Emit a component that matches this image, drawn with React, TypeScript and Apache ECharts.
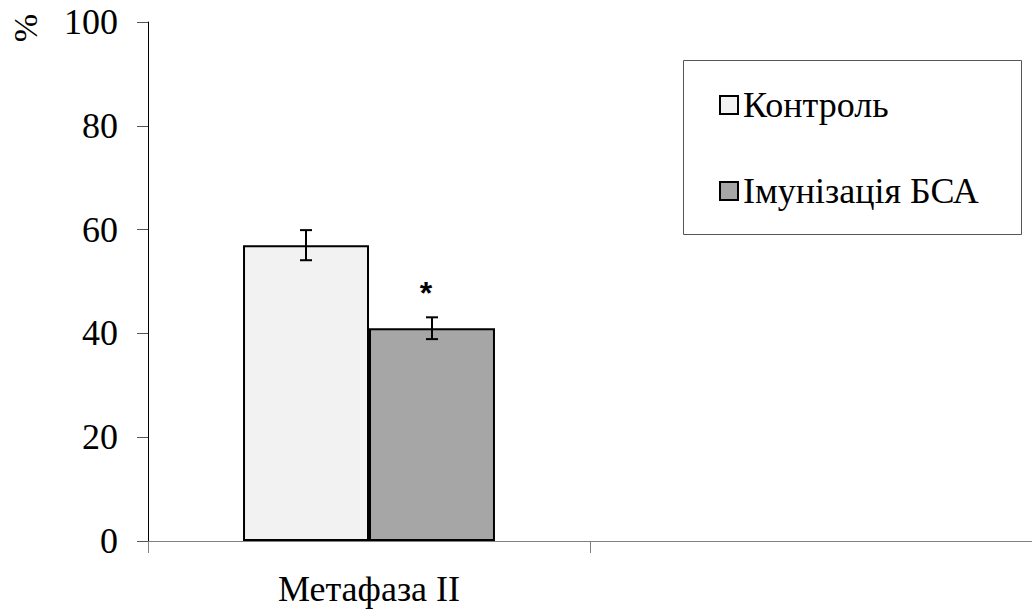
import React, { useEffect, useRef } from "react";
import * as echarts from "echarts";

const categories = ["Метафаза II", ""];
const seriesNames = ["Контроль", "Імунізація БСА"];
const controlValues = [57, null];
const immunValues = [41, null];
const controlErrors = [2.9, null];
const immunErrors = [2.1, null];
const significance = ["", "*"];
const yTicks = { min: 0, max: 100, interval: 20 };

const FONT = "Liberation Serif";
const CAT_GAP = 0.43;

export default function App() {
  const ref = useRef<HTMLDivElement>(null);
  useEffect(() => {
    if (!ref.current) return;
    const chart = echarts.init(ref.current, undefined, { renderer: "svg" });
    const errData: any[] = [];
    [controlValues, immunValues].forEach((vals, k) => {
      const errs = k === 0 ? controlErrors : immunErrors;
      vals.forEach((v, i) => {
        if (v == null) return;
        errData.push({ value: [i, v, errs[i], k] });
      });
    });
    const option: any = {
      animation: false,
      backgroundColor: "#fff",
      textStyle: { fontFamily: FONT },
      grid: { left: 148, top: 22, width: 894, height: 519, containLabel: false },
      graphic: [
        {
          type: "rect",
          z: 0,
          shape: { x: 683.5, y: 60.5, width: 338, height: 174 },
          style: { fill: "#fff", stroke: "#555", lineWidth: 1 },
        },
        {
          type: "text",
          x: 25,
          y: 28,
          rotation: Math.PI / 2,
          style: {
            text: "%",
            fontFamily: FONT,
            fontSize: 34,
            fill: "#000",
            align: "center",
            verticalAlign: "middle",
          },
        },
      ],
      legend: {
        orient: "vertical",
        left: 719,
        top: 87,
        padding: 0,
        itemWidth: 18,
        itemHeight: 18,
        itemGap: 50,
        itemTextGap: 7,
        icon: "rect",
        data: seriesNames,
        textStyle: { fontFamily: FONT, fontSize: 36, color: "#000" },
        z: 10,
      },
      xAxis: {
        type: "category",
        data: categories,
        axisLine: { show: true, lineStyle: { color: "#808080", width: 1 } },
        axisTick: { show: true, length: 12, alignWithLabel: false, lineStyle: { color: "#808080" } },
        axisLabel: { fontFamily: FONT, fontSize: 36, color: "#000", margin: 30 },
        splitLine: { show: false },
      },
      yAxis: {
        type: "value",
        min: yTicks.min,
        max: yTicks.max,
        interval: yTicks.interval,
        axisLine: { show: true, lineStyle: { color: "#000", width: 1 } },
        axisTick: { show: true, inside: false, length: 11, lineStyle: { color: "#555" } },
        axisLabel: { fontFamily: FONT, fontSize: 36, color: "#000", margin: 30 },
        splitLine: { show: false },
      },
      series: [
        {
          name: seriesNames[0],
          type: "bar",
          data: controlValues,
          barGap: "0%",
          barCategoryGap: "43%",
          itemStyle: { color: "#F2F2F2", borderColor: "#000", borderWidth: 2 },
        },
        {
          name: seriesNames[1],
          type: "bar",
          data: immunValues,
          barGap: "0%",
          barCategoryGap: "43%",
          itemStyle: { color: "#A6A6A6", borderColor: "#000", borderWidth: 2 },
        },
        {
          type: "custom",
          data: errData,
          z: 5,
          renderItem: (params: any, api: any) => {
            const x = api.value(0);
            const v = api.value(1);
            const e = api.value(2);
            const k = api.value(3);
            const band = api.size([1, 0])[0];
            const barW = (band * (1 - CAT_GAP)) / 2;
            const c = api.coord([x, v]);
            const cx = c[0] + (k - 0.5) * barW;
            const top = api.coord([x, v + e])[1];
            const bot = api.coord([x, v - e])[1];
            const cap = 6;
            const st = { stroke: "#000", lineWidth: 2 };
            const children: any[] = [
              { type: "line", shape: { x1: cx, y1: top, x2: cx, y2: bot }, style: st },
              { type: "line", shape: { x1: cx - cap, y1: top, x2: cx + cap, y2: top }, style: st },
              { type: "line", shape: { x1: cx - cap, y1: bot, x2: cx + cap, y2: bot }, style: st },
            ];
            const mark = significance[k];
            if (mark) {
              children.push({
                type: "text",
                x: cx - 6,
                y: top - 24,
                style: {
                  text: mark,
                  fontFamily: "Liberation Sans",
                  fontWeight: "bold",
                  fontSize: 32,
                  fill: "#000",
                  align: "center",
                  verticalAlign: "middle",
                },
              });
            }
            return { type: "group", children };
          },
        },
      ],
    };
    chart.setOption(option);
    return () => chart.dispose();
  }, []);
  return (
    <div
      ref={ref}
      style={{ position: "fixed", left: 0, top: 0, width: 1032, height: 616 }}
    />
  );
}
